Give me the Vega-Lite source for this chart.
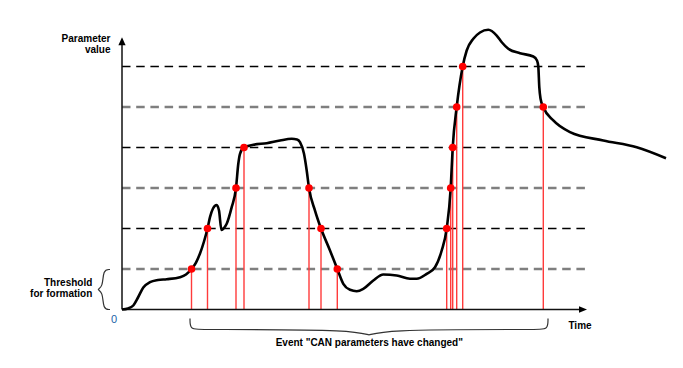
{
  "$schema": "https://vega.github.io/schema/vega-lite/v6.json",
  "width": 683,
  "height": 368,
  "autosize": {"type": "none"},
  "padding": 0,
  "background": "white",
  "view": {"stroke": null},
  "config": {"text": {"font": "Liberation Sans", "fontSize": 10, "fontWeight": "bold", "color": "#000000"}},
  "datasets": {
    "curve": [
      {"i":0,"t":0,"v":0},{"i":1,"t":6,"v":0.025},{"i":2,"t":11.3,"v":0.099},{"i":3,"t":16,"v":0.296},
      {"i":4,"t":21.3,"v":0.543},{"i":5,"t":28,"v":0.674},{"i":6,"t":36,"v":0.728},{"i":7,"t":44.7,"v":0.748},
      {"i":8,"t":58,"v":0.798},{"i":9,"t":64,"v":0.864},{"i":10,"t":69.5,"v":1},{"i":11,"t":74,"v":1.16},
      {"i":12,"t":78,"v":1.383},{"i":13,"t":82,"v":1.679},{"i":14,"t":85.5,"v":2},{"i":15,"t":88,"v":2.279},
      {"i":16,"t":91,"v":2.494},{"i":17,"t":94.7,"v":2.58},{"i":18,"t":97,"v":2.444},{"i":19,"t":99.5,"v":1.963},
      {"i":20,"t":102,"v":2.012},{"i":21,"t":104.7,"v":2.116},{"i":22,"t":109.7,"v":2.526},{"i":23,"t":114,"v":3},
      {"i":24,"t":116.3,"v":3.598},{"i":25,"t":118,"v":3.844},{"i":26,"t":122,"v":4},{"i":27,"t":131.3,"v":4.067},
      {"i":28,"t":144.7,"v":4.106},{"i":29,"t":158,"v":4.173},{"i":30,"t":169.7,"v":4.215},{"i":31,"t":175,"v":4.198},
      {"i":32,"t":178,"v":4.131},{"i":33,"t":182,"v":3.844},{"i":34,"t":184.7,"v":3.432},{"i":35,"t":187,"v":3},
      {"i":36,"t":193,"v":2.444},{"i":37,"t":199,"v":2},{"i":38,"t":208,"v":1.457},{"i":39,"t":215.3,"v":1},
      {"i":40,"t":221.3,"v":0.635},{"i":41,"t":228,"v":0.486},{"i":42,"t":234.7,"v":0.452},{"i":43,"t":241.3,"v":0.511},
      {"i":44,"t":251.3,"v":0.716},{"i":45,"t":261.3,"v":0.864},{"i":46,"t":274.7,"v":0.84},{"i":47,"t":288,"v":0.758},
      {"i":48,"t":294.7,"v":0.758},{"i":49,"t":304.7,"v":0.881},{"i":50,"t":313,"v":1.044},{"i":51,"t":319.7,"v":1.457},
      {"i":52,"t":324.7,"v":2},{"i":53,"t":328.7,"v":3},{"i":54,"t":330.7,"v":4},{"i":55,"t":334.7,"v":5},
      {"i":56,"t":340.7,"v":6},{"i":57,"t":344.7,"v":6.395},{"i":58,"t":351.3,"v":6.684},{"i":59,"t":358,"v":6.84},
      {"i":60,"t":366.3,"v":6.906},{"i":61,"t":374.7,"v":6.765},{"i":62,"t":380,"v":6.593},{"i":63,"t":386.3,"v":6.437},
      {"i":64,"t":398,"v":6.328},{"i":65,"t":411.3,"v":6.247},{"i":66,"t":415,"v":6.148},{"i":67,"t":416.3,"v":6.0},
      {"i":68,"t":417.3,"v":5.489},{"i":69,"t":418.5,"v":5.21},{"i":70,"t":421.3,"v":5},{"i":71,"t":431.3,"v":4.667},
      {"i":72,"t":448,"v":4.378},{"i":73,"t":481.3,"v":4.173},{"i":74,"t":514.7,"v":4.007},{"i":75,"t":544,"v":3.736}
    ],
    "events": [
      {"t":69.5,"v":1},{"t":85.5,"v":2},{"t":114,"v":3},{"t":122,"v":4},{"t":187,"v":3},{"t":199,"v":2},
      {"t":215.3,"v":1},{"t":324.7,"v":2},{"t":328.7,"v":3},{"t":330.7,"v":4},{"t":334.7,"v":5},{"t":340.7,"v":6},
      {"t":421.3,"v":5}
    ],
    "levels": [
      {"v":1,"kind":"light"},{"v":2,"kind":"dark"},{"v":3,"kind":"light"},
      {"v":4,"kind":"dark"},{"v":5,"kind":"light"},{"v":6,"kind":"dark"}
    ],
    "axes": [
      {"name":"time","t":0,"v":0,"t2":459,"v2":0},
      {"name":"value","t":0,"v":0,"t2":0,"v2":6.55}
    ],
    "braces": [
      {"b":"threshold","i":0,"t":-12,"v":0.988},{"b":"threshold","i":1,"t":-19,"v":0.988},
      {"b":"threshold","i":2,"t":-19,"v":0.543},{"b":"threshold","i":3,"t":-26,"v":0.494},
      {"b":"threshold","i":4,"t":-19,"v":0.444},{"b":"threshold","i":5,"t":-19,"v":0},
      {"b":"threshold","i":6,"t":-12,"v":0},
      {"b":"event","i":0,"t":68,"v":-0.222},{"b":"event","i":1,"t":68,"v":-0.494},
      {"b":"event","i":2,"t":78,"v":-0.494},{"b":"event","i":3,"t":240,"v":-0.494},
      {"b":"event","i":4,"t":247,"v":-0.691},{"b":"event","i":5,"t":254,"v":-0.494},
      {"b":"event","i":6,"t":416,"v":-0.494},{"b":"event","i":7,"t":426,"v":-0.494},
      {"b":"event","i":8,"t":426,"v":-0.222}
    ]
  },
  "layer": [
    {
      "data": {"name": "levels"},
      "transform": [{"filter": "datum.kind == 'light'"}],
      "mark": {"type": "rule", "color": "#7f7f7f", "strokeWidth": 2.5, "strokeDash": [8.5, 5.7]},
      "encoding": {
        "x": {"datum": 0, "type": "quantitative", "scale": {"domain": [-122, 561], "nice": false, "zero": false}, "axis": null},
        "x2": {"datum": 467},
        "y": {"field": "v", "type": "quantitative", "scale": {"domain": [-1.4445, 7.6419], "nice": false, "zero": false}, "axis": null}
      }
    },
    {
      "data": {"name": "levels"},
      "transform": [{"filter": "datum.kind == 'dark'"}],
      "mark": {"type": "rule", "color": "#000000", "strokeWidth": 1.3, "strokeDash": [8.5, 5.7]},
      "encoding": {
        "x": {"datum": 0, "type": "quantitative", "scale": {"domain": [-122, 561], "nice": false, "zero": false}, "axis": null},
        "x2": {"datum": 467},
        "y": {"field": "v", "type": "quantitative", "scale": {"domain": [-1.4445, 7.6419], "nice": false, "zero": false}, "axis": null}
      }
    },
    {
      "data": {"name": "events"},
      "mark": {"type": "rule", "color": "#ff3b3b", "strokeWidth": 1.4},
      "encoding": {
        "x": {"field": "t", "type": "quantitative", "scale": {"domain": [-122, 561], "nice": false, "zero": false}, "axis": null},
        "y": {"field": "v", "type": "quantitative", "scale": {"domain": [-1.4445, 7.6419], "nice": false, "zero": false}, "axis": null},
        "y2": {"datum": 0}
      }
    },
    {
      "data": {"name": "axes"},
      "mark": {"type": "rule", "color": "#111111", "strokeWidth": 1.5},
      "encoding": {
        "x": {"field": "t", "type": "quantitative", "scale": {"domain": [-122, 561], "nice": false, "zero": false}, "axis": null},
        "y": {"field": "v", "type": "quantitative", "scale": {"domain": [-1.4445, 7.6419], "nice": false, "zero": false}, "axis": null},
        "x2": {"field": "t2"},
        "y2": {"field": "v2"}
      }
    },
    {
      "data": {"name": "curve"},
      "mark": {"type": "line", "color": "#000000", "strokeWidth": 2.6, "interpolate": "monotone"},
      "encoding": {
        "x": {"field": "t", "type": "quantitative", "scale": {"domain": [-122, 561], "nice": false, "zero": false}, "axis": null},
        "y": {"field": "v", "type": "quantitative", "scale": {"domain": [-1.4445, 7.6419], "nice": false, "zero": false}, "axis": null},
        "order": {"field": "i", "type": "quantitative"}
      }
    },
    {
      "data": {"name": "events"},
      "mark": {"type": "point", "shape": "circle", "filled": true, "color": "#ff0000", "size": 58, "opacity": 1},
      "encoding": {
        "x": {"field": "t", "type": "quantitative", "scale": {"domain": [-122, 561], "nice": false, "zero": false}, "axis": null},
        "y": {"field": "v", "type": "quantitative", "scale": {"domain": [-1.4445, 7.6419], "nice": false, "zero": false}, "axis": null}
      }
    },
    {
      "data": {"values": [{"t": 0, "v": 6.723}]},
      "mark": {"type": "point", "shape": "M0,0L-0.9,2L0.9,2Z", "filled": true, "color": "#000000", "size": 64, "opacity": 1, "strokeWidth": 0},
      "encoding": {
        "x": {"field": "t", "type": "quantitative", "scale": {"domain": [-122, 561], "nice": false, "zero": false}, "axis": null},
        "y": {"field": "v", "type": "quantitative", "scale": {"domain": [-1.4445, 7.6419], "nice": false, "zero": false}, "axis": null}
      }
    },
    {
      "data": {"values": [{"t": 465, "v": 0}]},
      "mark": {"type": "point", "shape": "M0,0L-2,-0.8L-2,0.8Z", "filled": true, "color": "#000000", "size": 64, "opacity": 1, "strokeWidth": 0},
      "encoding": {
        "x": {"field": "t", "type": "quantitative", "scale": {"domain": [-122, 561], "nice": false, "zero": false}, "axis": null},
        "y": {"field": "v", "type": "quantitative", "scale": {"domain": [-1.4445, 7.6419], "nice": false, "zero": false}, "axis": null}
      }
    },
    {
      "data": {"name": "braces"},
      "mark": {"type": "line", "color": "#333333", "strokeWidth": 1.2, "interpolate": "basis"},
      "encoding": {
        "x": {"field": "t", "type": "quantitative", "scale": {"domain": [-122, 561], "nice": false, "zero": false}, "axis": null},
        "y": {"field": "v", "type": "quantitative", "scale": {"domain": [-1.4445, 7.6419], "nice": false, "zero": false}, "axis": null},
        "detail": {"field": "b", "type": "nominal"},
        "order": {"field": "i", "type": "quantitative"}
      }
    },
    {
      "data": {"values": [
        {"label": "Parameter", "t": -11.5, "v": 6.667},
        {"label": "value", "t": -11.5, "v": 6.395},
        {"label": "Threshold", "t": -29.7, "v": 0.649},
        {"label": "for formation", "t": -29.7, "v": 0.388}
      ]},
      "mark": {"type": "text", "align": "right", "baseline": "middle"},
      "encoding": {
        "x": {"field": "t", "type": "quantitative", "scale": {"domain": [-122, 561], "nice": false, "zero": false}, "axis": null},
        "y": {"field": "v", "type": "quantitative", "scale": {"domain": [-1.4445, 7.6419], "nice": false, "zero": false}, "axis": null},
        "text": {"field": "label"}
      }
    },
    {
      "data": {"values": [
        {"label": "Time", "t": 458, "v": -0.412},
        {"label": "Event \"CAN parameters have changed\"", "t": 247.3, "v": -0.832}
      ]},
      "mark": {"type": "text", "align": "center", "baseline": "middle"},
      "encoding": {
        "x": {"field": "t", "type": "quantitative", "scale": {"domain": [-122, 561], "nice": false, "zero": false}, "axis": null},
        "y": {"field": "v", "type": "quantitative", "scale": {"domain": [-1.4445, 7.6419], "nice": false, "zero": false}, "axis": null},
        "text": {"field": "label"}
      }
    },
    {
      "data": {"values": [{"label": "0", "t": -8, "v": -0.247}]},
      "mark": {"type": "text", "align": "center", "baseline": "middle", "fontWeight": "normal", "fontSize": 11, "color": "#1a5fa8"},
      "encoding": {
        "x": {"field": "t", "type": "quantitative", "scale": {"domain": [-122, 561], "nice": false, "zero": false}, "axis": null},
        "y": {"field": "v", "type": "quantitative", "scale": {"domain": [-1.4445, 7.6419], "nice": false, "zero": false}, "axis": null},
        "text": {"field": "label"}
      }
    }
  ]
}
